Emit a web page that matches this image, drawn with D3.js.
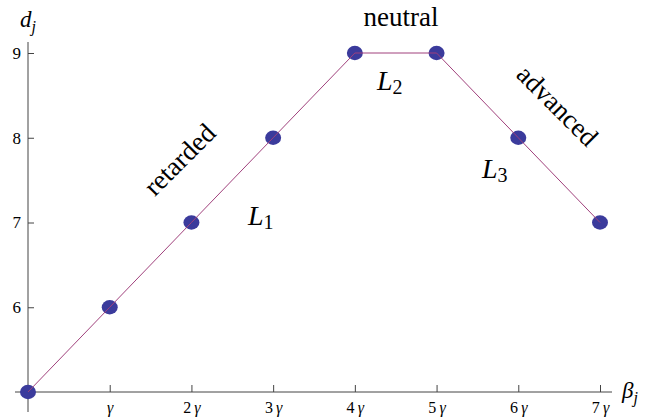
<!DOCTYPE html>
<html>
<head>
<meta charset="utf-8">
<script src="https://cdn.jsdelivr.net/npm/d3@7"></script>
<style>
  html, body { margin: 0; padding: 0; background: #fff; }
  svg { display: block; }
</style>
</head>
<body>
<svg id="chart" width="650" height="419" font-family="Liberation Serif"></svg>
<script>
// ---- data ----
const xValues = [0, 1, 2, 3, 4, 5, 6, 7];          // beta_j in units of gamma
const dValues = [5, 6, 7, 8, 9, 9, 8, 7];          // d_j
const xTickValues = [1, 2, 3, 4, 5, 6, 7];
const xTickNumbers = ["", "2", "3", "4", "5", "6", "7"]; // followed by gamma
const yTickValues = [6, 7, 8, 9];
const regionLabels = ["retarded", "neutral", "advanced"];
const segmentLabels = ["1", "2", "3"];

// ---- layout ----
const FONT = "Liberation Serif";
const svg = d3.select("#chart");
const x = d3.scaleLinear().domain([0, 7]).range([28, 600]);
const y = d3.scaleLinear().domain([5, 9]).range([392, 53]);

const axisColor = "#444";

// axis lines (extended, Mathematica style)
svg.append("line")
  .attr("x1", 15).attr("x2", 612)
  .attr("y1", y(5)).attr("y2", y(5))
  .attr("stroke", axisColor).attr("stroke-width", 1);
svg.append("line")
  .attr("x1", x(0)).attr("x2", x(0))
  .attr("y1", 42).attr("y2", 412)
  .attr("stroke", axisColor).attr("stroke-width", 1);

// x axis ticks
const xAxis = d3.axisBottom(x)
  .tickValues(xTickValues)
  .tickSize(-7)
  .tickPadding(10)
  .tickFormat(() => "");
const gx = svg.append("g").attr("transform", `translate(0,${y(5)})`).call(xAxis);
gx.attr("font-family", FONT).attr("font-size", 16);
gx.select(".domain").remove();
gx.selectAll(".tick line").attr("stroke", axisColor);
gx.selectAll(".tick text").each(function(d, i) {
  const t = d3.select(this)
    .attr("font-size", 16)
    .style("font-family", FONT)
    .style("font-size", "16px")
    .attr("fill", "#000");
  t.text(null);
  const num = xTickNumbers[i];
  if (num) t.append("tspan").text(num + "\u2009");
  t.append("tspan").attr("font-style", "italic").text("\u03b3");
});

// y axis ticks
const yAxis = d3.axisLeft(y)
  .tickValues(yTickValues)
  .tickSize(-6)
  .tickPadding(7)
  .tickFormat(d3.format("d"));
const gy = svg.append("g").attr("transform", `translate(${x(0)},0)`).call(yAxis);
gy.attr("font-family", FONT).attr("font-size", 17);
gy.select(".domain").remove();
gy.selectAll(".tick line").attr("stroke", axisColor);
gy.selectAll(".tick text")
  .attr("font-size", 17)
  .style("font-family", FONT)
  .style("font-size", "17px")
  .attr("fill", "#000");

// axis labels
const dl = svg.append("text").attr("x", 20).attr("y", 27)
  .style("font-family", FONT)
  .attr("font-size", 23).attr("font-style", "italic");
dl.append("tspan").text("d");
dl.append("tspan").attr("font-size", 16).attr("dy", 5).text("j");

const bl = svg.append("text").attr("x", 622).attr("y", 398)
  .style("font-family", FONT)
  .attr("font-size", 23).attr("font-style", "italic");
bl.append("tspan").text("\u03b2");
bl.append("tspan").attr("font-size", 16).attr("dy", 5).text("j");

// points
const pts = xValues.map((v, i) => [v, dValues[i]]);
svg.append("g").selectAll("ellipse")
  .data(pts).join("ellipse")
  .attr("cx", d => x(d[0])).attr("cy", d => y(d[1]))
  .attr("rx", 8).attr("ry", 7.2)
  .attr("fill", "#3b3b9c");

// joining line (drawn on top)
svg.append("path")
  .datum(pts)
  .attr("fill", "none")
  .attr("stroke", "#a0417c")
  .attr("stroke-width", 1)
  .attr("d", d3.line().x(d => x(d[0])).y(d => y(d[1])));

// region labels
svg.append("text").attr("font-size", 27)
  .style("font-family", FONT)
  .attr("text-anchor", "middle")
  .attr("transform", "translate(186,166) rotate(-45)")
  .text(regionLabels[0]);
svg.append("text").attr("font-size", 27)
  .style("font-family", FONT)
  .attr("text-anchor", "middle")
  .attr("x", 401).attr("y", 26)
  .text(regionLabels[1]);
svg.append("text").attr("font-size", 27)
  .style("font-family", FONT)
  .attr("text-anchor", "middle")
  .attr("transform", "translate(551,112) rotate(45)")
  .text(regionLabels[2]);

// segment labels L1, L2, L3
const segPos = [[248, 225], [377, 90], [482, 178]];
segPos.forEach((p, i) => {
  const t = svg.append("text").attr("x", p[0]).attr("y", p[1])
    .style("font-family", FONT)
    .attr("font-size", 28).attr("font-style", "italic");
  t.append("tspan").text("L");
  t.append("tspan").attr("font-style", "normal").attr("font-size", 20)
    .attr("dy", 4).text(segmentLabels[i]);
});
</script>
</body>
</html>
